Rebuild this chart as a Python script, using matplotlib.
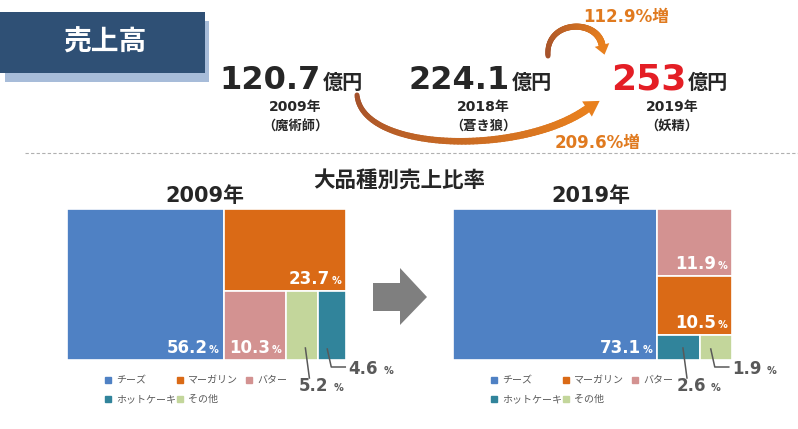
import matplotlib
matplotlib.use('Agg')
import matplotlib.pyplot as plt
from matplotlib.patches import Rectangle, Polygon
from matplotlib.collections import LineCollection
import numpy as np

plt.rcParams['font.family'] = ['DejaVu Sans', 'Noto Sans CJK JP']

# ---- data ----
categories = ['チーズ', 'マーガリン', 'バター', 'ホットケーキ', 'その他']
share_2009 = [56.2, 23.7, 10.3, 4.6, 5.2]
share_2019 = [73.1, 10.5, 11.9, 2.6, 1.9]
sales = [120.7, 224.1, 253]
sales_years = ['2009年', '2018年', '2019年']
sales_names = ['（魔術師）', '（蒼き狼）', '（妖精）']
growth = [112.9, 209.6]

colors = {
    'チーズ': '#4F81C4',
    'マーガリン': '#DA6A16',
    'バター': '#D39291',
    'ホットケーキ': '#31849B',
    'その他': '#C3D69B',
}
dark = '#262626'
gray_txt = '#595959'
orange_txt = '#E07A1F'

fig = plt.figure(figsize=(7.98, 4.29), dpi=100)
ax = fig.add_axes([0, 0, 1, 1])
ax.set_xlim(0, 798)
ax.set_ylim(429, 0)
ax.axis('off')

# ---- header box ----
ax.add_patch(Rectangle((5, 21), 204, 61, color='#A7BCD9', lw=0))
ax.add_patch(Rectangle((0, 12), 205, 61, color='#2F5075', lw=0))
ax.text(105, 43, '売上高', color='white', fontsize=20, fontweight='bold',
        ha='center', va='center')

# ---- sales numbers ----
num_right = [321, 510, 686]
num_size = [23, 23, 26]
num_color = [dark, dark, '#E41E25']
label_x = [295, 483, 672]
for i, v in enumerate(sales):
    s = f'{v:.1f}' if v % 1 else f'{int(v)}'
    ax.text(num_right[i], 89, s, fontsize=num_size[i], fontweight='bold',
            color=num_color[i], ha='right', va='baseline')
    ax.text(num_right[i] + 2, 89, '億円', fontsize=14.5, fontweight='bold',
            color=dark, ha='left', va='baseline')
    ax.text(label_x[i], 107, sales_years[i], fontsize=10, fontweight='bold',
            color=dark, ha='center', va='center')
    ax.text(label_x[i], 126, sales_names[i], fontsize=9.5, fontweight='bold',
            color=dark, ha='center', va='center')


def bezier(p, n=80):
    t = np.linspace(0, 1, n)[:, None]
    p = np.array(p, dtype=float)
    return ((1 - t) ** 3 * p[0] + 3 * (1 - t) ** 2 * t * p[1]
            + 3 * (1 - t) * t ** 2 * p[2] + t ** 3 * p[3])


def grad_arrow(ctrl, w0, w1, head_len, head_w, c0='#A4512B', c1='#E8801E'):
    pts = bezier(ctrl)
    segs = np.stack([pts[:-1], pts[1:]], axis=1)
    t = np.linspace(0, 1, len(segs))
    ca = np.array(matplotlib.colors.to_rgb(c0))
    cb = np.array(matplotlib.colors.to_rgb(c1))
    cols = [tuple(ca + (cb - ca) * k) for k in t]
    widths = (w0 + (w1 - w0) * t) * 0.72
    ax.add_collection(LineCollection(segs, colors=cols, linewidths=widths,
                                     capstyle='round'))
    end = pts[-1]
    d = pts[-1] - pts[-4]
    d = d / np.hypot(*d)
    nrm = np.array([-d[1], d[0]])
    tip = end + d * head_len
    ax.add_patch(Polygon([tip, end + nrm * head_w, end - nrm * head_w],
                         closed=True, color=c1, lw=0))


grad_arrow([(357, 95), (362, 152), (520, 156), (587, 109)], 5, 8, 15, 9)
grad_arrow([(548, 56), (545, 20), (597, 18), (602, 45)], 5, 7, 10, 7.5)

ax.text(626, 17, f'{growth[0]}%増', fontsize=12, fontweight='bold',
        color=orange_txt, ha='center', va='center')
ax.text(598, 143, f'{growth[1]}%増', fontsize=12, fontweight='bold',
        color=orange_txt, ha='center', va='center')

# dashed separator
ax.plot([25, 798], [153, 153], color='#B0B0B0', lw=0.8, ls=(0, (3, 2)))

ax.text(399, 180, '大品種別売上比率', fontsize=15.5, fontweight='bold',
        color=dark, ha='center', va='center')

# gray arrow between treemaps
ax.add_patch(Polygon([(373, 283), (400, 283), (400, 268), (427, 297),
                      (400, 325), (400, 311), (373, 311)],
                     closed=True, color='#7F7F7F', lw=0))


def treemap(shares, left, stack, row, x0, y0, w, h):
    total = sum(shares)
    rects = {}
    lw = w * shares[left] / total
    rects[left] = (x0, y0, lw, h)
    rx, rw = x0 + lw, w - lw
    rest = total - shares[left]
    y = y0
    for i in stack:
        hh = h * shares[i] / rest
        rects[i] = (rx, y, rw, hh)
        y += hh
    rsum = sum(shares[i] for i in row)
    hh = y0 + h - y
    x = rx
    for i in row:
        ww = rw * shares[i] / rsum
        rects[i] = (x, y, ww, hh)
        x += ww
    return rects


def draw_treemap(shares, title, left, stack, row, inside, down, side, x0):
    y0, w, h = 209, 279, 151
    rects = treemap(shares, left, stack, row, x0, y0, w, h)
    for i, (x, y, ww, hh) in rects.items():
        ax.add_patch(Rectangle((x, y), ww, hh, facecolor=colors[categories[i]],
                               edgecolor='white', lw=1.2))
    for i in inside:
        x, y, ww, hh = rects[i]
        ax.text(x + ww - 16, y + hh - 7, f'{shares[i]}', fontsize=12,
                fontweight='bold', color='white', ha='right', va='baseline')
        ax.text(x + ww - 5, y + hh - 7, '%', fontsize=7, fontweight='bold',
                color='white', ha='right', va='baseline')
    # leader labels
    x, y, ww, hh = rects[down]
    sx, b = x + ww * 0.6, y + hh
    ax.plot([sx, sx + 4], [b - 12, b + 18], color=gray_txt, lw=1.1)
    ax.text(sx + 23, b + 26, f'{shares[down]}', fontsize=12, fontweight='bold',
            color=gray_txt, ha='right', va='center')
    ax.text(sx + 28, b + 28, '%', fontsize=7, fontweight='bold',
            color=gray_txt, ha='left', va='center')
    x, y, ww, hh = rects[side]
    sx, b = x + ww * 0.33, y + hh
    ax.plot([sx, sx + 4, sx + 18], [b - 11, b + 7, b + 7], color=gray_txt, lw=1.1)
    ax.text(sx + 21, b + 9, f'{shares[side]}', fontsize=12, fontweight='bold',
            color=gray_txt, ha='left', va='center')
    ax.text(sx + 56, b + 11, '%', fontsize=7, fontweight='bold',
            color=gray_txt, ha='left', va='center')
    ax.text(x0 + 138, 196, title, fontsize=15, fontweight='bold', color=dark,
            ha='center', va='center')
    # legend
    leg = [(0, 41, 380), (1, 113, 380), (2, 182, 380), (3, 41, 399), (4, 113, 399)]
    for i, dx, ly in leg:
        ax.plot(x0 + dx, ly, marker='s', ms=4, color=colors[categories[i]], lw=0)
        ax.text(x0 + dx + 8, ly, categories[i], fontsize=7.2, color=gray_txt,
                ha='left', va='center')


draw_treemap(share_2009, '2009年', 0, [1], [2, 4, 3], [0, 1, 2], 4, 3, 67)
draw_treemap(share_2019, '2019年', 0, [2, 1], [3, 4], [0, 2, 1], 3, 4, 453)

fig.savefig('out.png', dpi=100, facecolor='white')
